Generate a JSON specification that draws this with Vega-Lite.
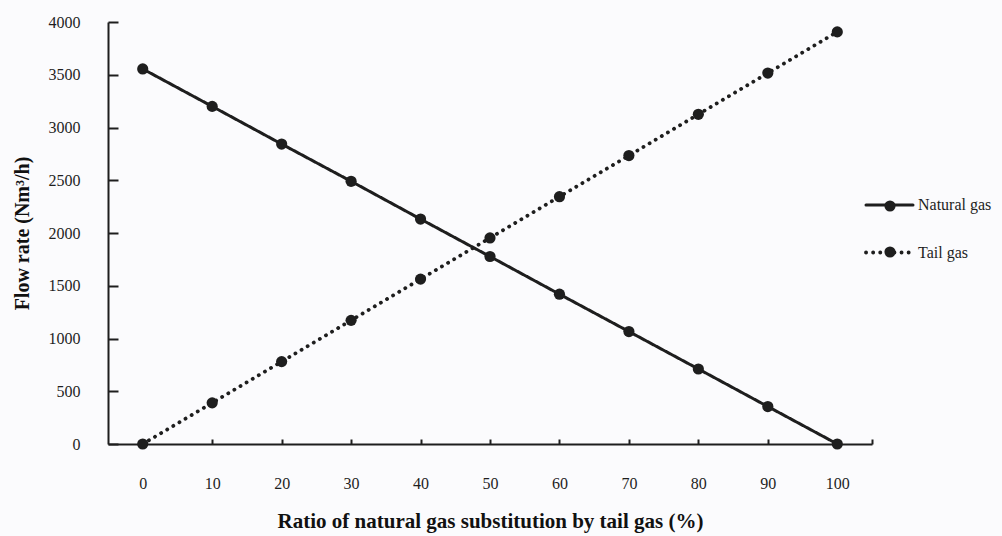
{
  "$schema": "https://vega.github.io/schema/vega-lite/v6.json",
  "width": 764,
  "height": 422,
  "autosize": {"type": "none"},
  "padding": {"left": 108, "top": 22, "right": 130, "bottom": 92},
  "background": "#fbfbfd",
  "config": {
    "view": {"stroke": null},
    "font": "Liberation Serif",
    "axis": {
      "domainColor": "#1e1e1e",
      "domainWidth": 2,
      "tickColor": "#1e1e1e",
      "tickWidth": 2,
      "grid": false,
      "labelFont": "Liberation Serif",
      "labelFontSize": 16,
      "labelColor": "#1e1e1e",
      "titleFont": "Liberation Serif",
      "titleFontSize": 20,
      "titleFontWeight": "bold",
      "titleColor": "#111111"
    },
    "legend": {
      "labelFont": "Liberation Serif",
      "labelFontSize": 16,
      "labelColor": "#1e1e1e"
    }
  },
  "data": {
    "values": [
      {"ratio": 0, "flow": 3555, "gas": "Natural gas"},
      {"ratio": 10, "flow": 3200, "gas": "Natural gas"},
      {"ratio": 20, "flow": 2843, "gas": "Natural gas"},
      {"ratio": 30, "flow": 2490, "gas": "Natural gas"},
      {"ratio": 40, "flow": 2132, "gas": "Natural gas"},
      {"ratio": 50, "flow": 1777, "gas": "Natural gas"},
      {"ratio": 60, "flow": 1420, "gas": "Natural gas"},
      {"ratio": 70, "flow": 1066, "gas": "Natural gas"},
      {"ratio": 80, "flow": 711, "gas": "Natural gas"},
      {"ratio": 90, "flow": 355, "gas": "Natural gas"},
      {"ratio": 100, "flow": 0, "gas": "Natural gas"},
      {"ratio": 0, "flow": 0, "gas": "Tail gas"},
      {"ratio": 10, "flow": 390, "gas": "Tail gas"},
      {"ratio": 20, "flow": 781, "gas": "Tail gas"},
      {"ratio": 30, "flow": 1172, "gas": "Tail gas"},
      {"ratio": 40, "flow": 1563, "gas": "Tail gas"},
      {"ratio": 50, "flow": 1953, "gas": "Tail gas"},
      {"ratio": 60, "flow": 2344, "gas": "Tail gas"},
      {"ratio": 70, "flow": 2734, "gas": "Tail gas"},
      {"ratio": 80, "flow": 3125, "gas": "Tail gas"},
      {"ratio": 90, "flow": 3516, "gas": "Tail gas"},
      {"ratio": 100, "flow": 3906, "gas": "Tail gas"}
    ]
  },
  "encoding": {
    "x": {
      "field": "ratio",
      "type": "quantitative",
      "scale": {"domain": [-5, 105], "nice": false, "zero": false},
      "axis": {
        "title": "Ratio of natural gas substitution by tail gas (%)",
        "titleFontSize": 21,
        "values": [0, 10, 20, 30, 40, 50, 60, 70, 80, 90, 100, 105],
        "labelExpr": "datum.value > 100 ? '' : datum.label",
        "tickSize": -5,
        "labelPadding": 36,
        "titlePadding": 19
      }
    },
    "y": {
      "field": "flow",
      "type": "quantitative",
      "scale": {"domain": [0, 4000], "nice": false},
      "axis": {
        "title": "Flow rate (Nm³/h)",
        "values": [0, 500, 1000, 1500, 2000, 2500, 3000, 3500, 4000],
        "format": "d",
        "tickSize": -10,
        "labelPadding": 38,
        "titlePadding": 16
      }
    }
  },
  "layer": [
    {
      "mark": {"type": "line", "color": "#1e1e1e", "strokeCap": "round"},
      "encoding": {
        "strokeWidth": {
          "field": "gas",
          "type": "nominal",
          "scale": {"domain": ["Natural gas", "Tail gas"], "range": [3, 3.8]},
          "legend": null
        },
        "strokeDash": {
          "field": "gas",
          "type": "nominal",
          "scale": {"domain": ["Natural gas", "Tail gas"], "range": [[1, 0], [0.1, 7]]},
          "legend": {
            "title": null,
            "orient": "none",
            "legendX": 756,
            "legendY": 158,
            "padding": 0,
            "rowPadding": 14,
            "labelOffset": 3,
            "symbolType": "M-1,0L1,0",
            "symbolSize": 2209,
            "symbolStrokeWidth": 3,
            "symbolStrokeColor": "#1e1e1e",
            "symbolOpacity": 1,
            "encode": {
              "symbols": {
                "update": {
                  "stroke": {"value": "#1e1e1e"},
                  "strokeWidth": {"value": 3.2},
                  "strokeCap": {"value": "round"}
                }
              }
            }
          }
        }
      }
    },
    {
      "mark": {"type": "point", "filled": true, "color": "#1e1e1e", "size": 125, "opacity": 1},
      "encoding": {
        "shape": {
          "field": "gas",
          "type": "nominal",
          "scale": {"range": ["circle", "circle"]},
          "legend": {
            "title": null,
            "orient": "none",
            "legendX": 774,
            "legendY": 176,
            "padding": 0,
            "rowPadding": 30,
            "labelOffset": 0,
            "labelExpr": "''",
            "symbolSize": 125,
            "symbolOpacity": 1,
            "symbolFillColor": "#1e1e1e",
            "symbolStrokeWidth": 0
          }
        }
      }
    }
  ]
}
